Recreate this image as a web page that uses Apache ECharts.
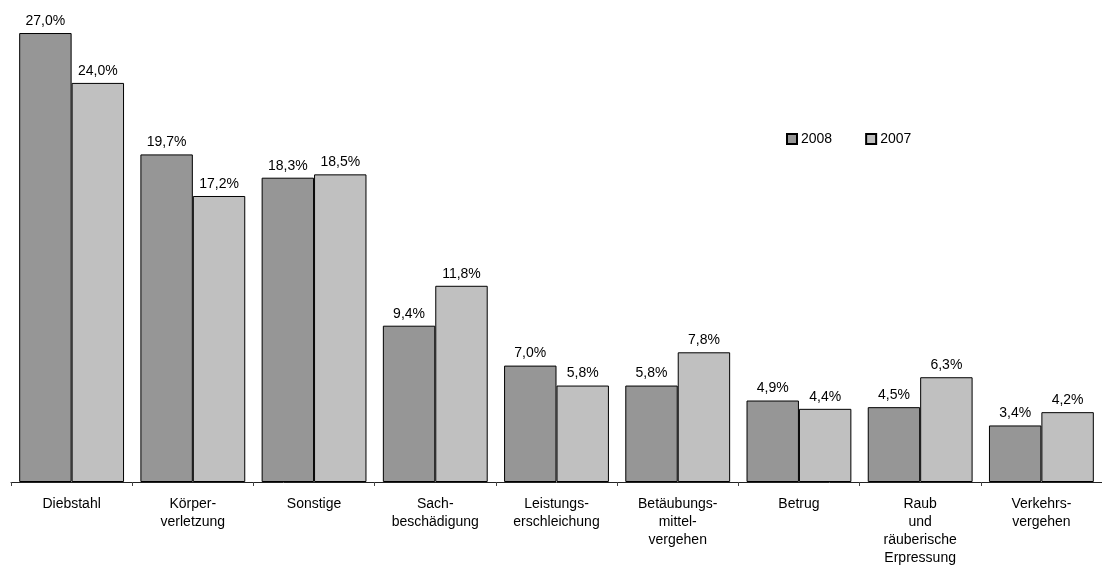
<!DOCTYPE html>
<html>
<head>
<meta charset="utf-8">
<script src="https://cdn.jsdelivr.net/npm/echarts@6/dist/echarts.min.js"></script>
<style>
  html, body { margin: 0; padding: 0; background: #fff; }
  #chart { width: 1102px; height: 567px; }
</style>
</head>
<body>
<div id="chart"></div>
<script>
// Deliktsbereiche (Anteile in %)
const categories = [
  'Diebstahl',
  'Körper-\nverletzung',
  'Sonstige',
  'Sach-\nbeschädigung',
  'Leistungs-\nerschleichung',
  'Betäubungs-\nmittel-\nvergehen',
  'Betrug',
  'Raub\nund\nräuberische\nErpressung',
  'Verkehrs-\nvergehen'
];
const values2008 = [27.0, 19.7, 18.3, 9.4, 7.0, 5.8, 4.9, 4.5, 3.4];
const values2007 = [24.0, 17.2, 18.5, 11.8, 5.8, 7.8, 4.4, 6.3, 4.2];
const seriesNames = ['2008', '2007'];

const fontFamily = '"Liberation Sans", Arial, sans-serif';
const pct = v => v.toFixed(1).replace('.', ',') + '%';

const chart = echarts.init(document.getElementById('chart'), null, { renderer: 'canvas' });

function barSeries(name, data, color) {
  return {
    name: name,
    type: 'bar',
    data: data,
    barGap: '0%',
    barCategoryGap: '13.5%',
    itemStyle: { color: color, borderColor: '#000', borderWidth: 1 },
    label: {
      show: true,
      position: 'top',
      distance: 5,
      color: '#000',
      fontSize: 14,
      fontFamily: fontFamily,
      formatter: p => pct(p.value)
    }
  };
}

chart.setOption({
  animation: false,
  backgroundColor: '#fff',
  grid: { left: 11, right: 0, top: 16.4, bottom: 85, containLabel: false },
  legend: {
    data: seriesNames,
    left: 781,
    top: 127,
    itemWidth: 10,
    itemHeight: 10,
    itemGap: 33,
    icon: 'rect',
    textStyle: { fontSize: 14, fontFamily: fontFamily, color: '#000', padding: [0, 0, 0, -1] }
  },
  xAxis: {
    type: 'category',
    data: categories,
    axisLine: { lineStyle: { color: '#222', width: 1 } },
    axisTick: { show: true, inside: false, length: 4, lineStyle: { color: '#444' } },
    axisLabel: {
      color: '#000',
      fontSize: 14,
      fontFamily: fontFamily,
      lineHeight: 18,
      margin: 13,
      interval: 0,
      align: 'center'
    }
  },
  yAxis: {
    type: 'value',
    min: 0,
    max: 28,
    show: false,
    splitLine: { show: false }
  },
  series: [
    barSeries(seriesNames[0], values2008, '#969696'),
    barSeries(seriesNames[1], values2007, '#c0c0c0')
  ]
});
</script>
</body>
</html>
